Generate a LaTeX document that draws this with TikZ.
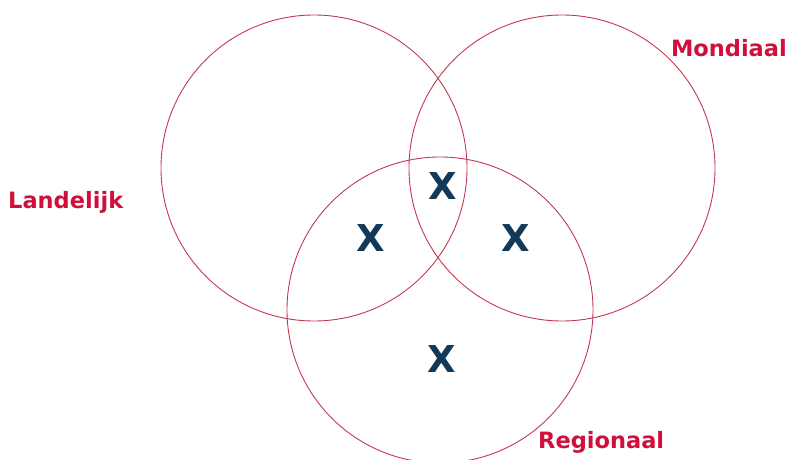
\documentclass[tikz,border=0pt]{standalone}
\usepackage{fontspec}
\setmainfont{DejaVu Sans}
\definecolor{ringred}{HTML}{C3384F}
\definecolor{labelred}{HTML}{D0103A}
\definecolor{xnavy}{HTML}{123A58}
\begin{document}
\begin{tikzpicture}[x=1pt,y=-1pt,
  ring/.style={draw=ringred,line width=0.9pt},
  lbl/.style={text=labelred,font=\bfseries\fontsize{22.5}{26}\selectfont,inner sep=0pt},
  xmark/.style={text=xnavy,font=\bfseries\fontsize{37}{40}\selectfont,inner sep=0pt}]
\useasboundingbox (0,0) rectangle (788,460);
\begin{scope}
\clip (0,0) rectangle (788,460);
\draw[ring] (314,168) circle (153);
\draw[ring] (562,168) circle (153);
\draw[ring] (440,310) circle (153);
\end{scope}
\node[lbl,anchor=west] (land) at (8,202) {Landelijk};
\node[lbl,anchor=east] (mond) at (787,48) {Mondiaal};
\node[lbl,anchor=west] (reg) at (538,442) {Regionaal};
\node[xmark] (x1) at (443,186) {X};
\node[xmark] (x2) at (371,238) {X};
\node[xmark] (x3) at (516,238) {X};
\node[xmark] (x4) at (442,359) {X};
\end{tikzpicture}
\end{document}
